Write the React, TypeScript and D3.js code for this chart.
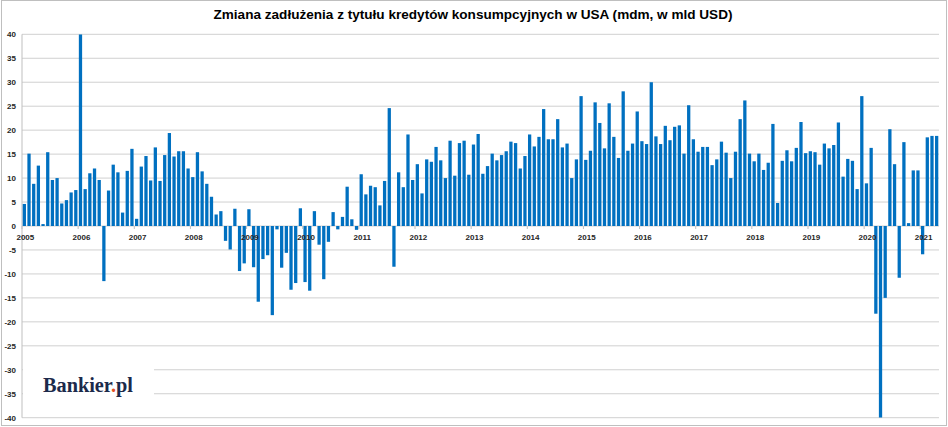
import React, { useEffect, useRef } from "react";
import * as d3 from "d3";

// miesięczne zmiany w mld USD, od 2005-01 do 2021-04
const values2005 = [4.6, 15.1, 8.8, 12.6, 0.4, 15.4, 9.6, 10.0, 4.7, 5.4, 7.0, 7.5];
const values2006 = [40, 7.7, 11.0, 12.0, 9.6, -11.5, 7.4, 12.8, 11.2, 2.8, 11.5, 16.1];
const values2007 = [1.5, 12.4, 14.6, 9.5, 16.4, 9.4, 14.8, 19.4, 14.5, 15.6, 15.6, 12.0];
const values2008 = [10.2, 15.4, 11.4, 8.8, 6.1, 2.4, 3.1, -3.1, -4.9, 3.6, -9.4, -7.8];
const values2009 = [3.5, -8.6, -15.8, -6.9, -6.1, -18.6, -0.7, -8.7, -5.6, -13.3, -11.9, 3.7];
const values2010 = [-11.7, -13.5, 3.1, -3.9, -11.1, -3.3, 2.9, -0.7, 1.9, 8.2, 1.4, -0.8];
const values2011 = [10.8, 6.6, 8.4, 8.1, 4.3, 9.4, 24.6, -8.5, 11.2, 8.1, 19.1, 9.6];
const values2012 = [12.9, 6.8, 13.9, 13.4, 16.5, 13.7, 10.0, 17.8, 10.5, 17.3, 17.8, 10.7];
const values2013 = [17.0, 19.2, 10.9, 12.5, 15.1, 13.7, 14.8, 15.6, 17.6, 17.3, 12.0, 14.6];
const values2014 = [19.1, 16.6, 18.6, 24.4, 18.1, 18.1, 22.3, 16.4, 17.2, 10.0, 13.9, 27.1];
const values2015 = [13.8, 15.7, 25.8, 21.5, 16.2, 25.6, 18.6, 14.2, 28.1, 15.7, 17.2, 23.9];
const values2016 = [17.7, 17.1, 30.0, 18.7, 17.1, 20.9, 17.9, 20.7, 21.0, 15.1, 25.2, 18.1];
const values2017 = [15.5, 16.5, 16.5, 12.7, 13.9, 17.6, 15.3, 10.0, 15.5, 22.3, 26.2, 15.1];
const values2018 = [13.5, 15.1, 11.7, 13.2, 21.3, 4.8, 13.6, 15.8, 13.5, 16.3, 21.7, 15.2];
const values2019 = [15.6, 15.4, 12.8, 17.2, 16.2, 16.9, 21.6, 10.3, 14.0, 13.6, 7.7, 27.1];
const values2020 = [8.9, 16.3, -18.3, -40, -15.0, 20.2, 12.9, -10.8, 17.5, 0.6, 11.6, 11.6];
const values2021 = [-5.9, 18.5, 18.8, 18.8];

const years = [2005, 2006, 2007, 2008, 2009, 2010, 2011, 2012, 2013, 2014, 2015, 2016, 2017, 2018, 2019, 2020, 2021];
const yTicks = [-40, -35, -30, -25, -20, -15, -10, -5, 0, 5, 10, 15, 20, 25, 30, 35, 40];

const title = "Zmiana zadłużenia z tytułu kredytów konsumpcyjnych w USA (mdm, w mld USD)";

const App = () => {
  const ref = useRef<SVGSVGElement>(null);

  useEffect(() => {
    document.body.style.margin = "0";
    makeGraph();
  }, []);

  const makeGraph = () => {
    const width = 948;
    const height = 427;
    const margin = { top: 34.3, left: 22, bottom: 9.3, right: 9 };

    const perYear = [
      values2005, values2006, values2007, values2008, values2009, values2010,
      values2011, values2012, values2013, values2014, values2015, values2016,
      values2017, values2018, values2019, values2020, values2021,
    ];
    const data: { key: string; year: number; month: number; value: number }[] = [];
    perYear.forEach((vals, i) =>
      vals.forEach((v, m) => data.push({ key: `${years[i]}-${m + 1}`, year: years[i], month: m, value: v }))
    );

    const svg = d3.select(ref.current);
    svg.selectAll("*").remove();

    // ramka wykresu
    svg
      .append("rect")
      .attr("x", 1.5)
      .attr("y", 0.5)
      .attr("width", width - 3)
      .attr("height", height - 2)
      .attr("fill", "#fff")
      .attr("stroke", "#bfbfbf");

    const x = d3
      .scaleBand()
      .domain(data.map((d) => d.key))
      .range([margin.left, width - margin.right])
      .paddingInner(0.3)
      .paddingOuter(0.15);

    const y = d3
      .scaleLinear()
      .domain([-40, 40])
      .range([height - margin.bottom, margin.top]);

    // siatka
    svg
      .append("g")
      .selectAll("line")
      .data(yTicks)
      .enter()
      .append("line")
      .attr("x1", margin.left)
      .attr("x2", width - margin.right)
      .attr("y1", (d) => y(d))
      .attr("y2", (d) => y(d))
      .attr("stroke", "#d0d0d0")
      .attr("stroke-width", 1);

    // oś Y
    svg
      .append("line")
      .attr("x1", margin.left)
      .attr("x2", margin.left)
      .attr("y1", y(40))
      .attr("y2", y(-40))
      .attr("stroke", "#bfbfbf");

    svg
      .append("g")
      .selectAll("text")
      .data(yTicks)
      .enter()
      .append("text")
      .text((d) => d)
      .attr("x", 16)
      .attr("y", (d) => y(d) + 2.8)
      .attr("text-anchor", "end")
      .attr("font-family", "Liberation Sans, Arial, sans-serif")
      .attr("font-weight", "bold")
      .attr("font-size", "8px")
      .attr("fill", "#262626");

    svg.append("defs").append("clipPath").attr("id", "plot")
      .append("rect")
      .attr("x", margin.left)
      .attr("y", y(40))
      .attr("width", width - margin.left - margin.right)
      .attr("height", y(-40) - y(40));

    // słupki
    svg
      .append("g")
      .attr("clip-path", "url(#plot)")
      .selectAll("rect")
      .data(data)
      .enter()
      .append("rect")
      .attr("x", (d) => x(d.key) as number)
      .attr("width", x.bandwidth())
      .attr("y", (d) => y(Math.max(0, d.value)))
      .attr("height", (d) => Math.abs(y(d.value) - y(0)))
      .attr("fill", "#0070c0");

    // znaczniki lat na osi X
    const step = x.step();
    svg
      .append("g")
      .selectAll("line")
      .data(years)
      .enter()
      .append("line")
      .attr("x1", (d) => (x(`${d}-1`) as number) - (step - x.bandwidth()) / 2)
      .attr("x2", (d) => (x(`${d}-1`) as number) - (step - x.bandwidth()) / 2)
      .attr("y1", y(0))
      .attr("y2", y(0) + 3)
      .attr("stroke", "#bfbfbf");

    svg
      .append("g")
      .selectAll("text")
      .data(years)
      .enter()
      .append("text")
      .text((d) => d)
      .attr("x", (d) => (x(`${d}-1`) as number) + x.bandwidth() / 2 + 1)
      .attr("y", y(0) + 14)
      .attr("text-anchor", "middle")
      .attr("font-family", "Liberation Sans, Arial, sans-serif")
      .attr("font-weight", "bold")
      .attr("font-size", "8px")
      .attr("fill", "#262626");

    // tytuł
    svg
      .append("text")
      .text(title)
      .attr("x", 473)
      .attr("y", 19)
      .attr("text-anchor", "middle")
      .attr("font-family", "Liberation Sans, Arial, sans-serif")
      .attr("font-weight", "bold")
      .attr("font-size", "13px")
      .attr("textLength", 519)
      .attr("lengthAdjust", "spacingAndGlyphs")
      .attr("fill", "#000");

    // logo
    svg
      .append("rect")
      .attr("x", margin.left + 1)
      .attr("y", 356)
      .attr("width", 131)
      .attr("height", 45)
      .attr("fill", "#fff");

    const logo = svg
      .append("text")
      .attr("x", 43)
      .attr("y", 391.5)
      .attr("font-family", "Liberation Serif, Times New Roman, serif")
      .attr("font-weight", "bold")
      .attr("font-size", "20px")
      .attr("textLength", 90)
      .attr("lengthAdjust", "spacingAndGlyphs")
      .attr("fill", "#1c2a4b");
    logo.append("tspan").text("Bankier");
    logo.append("tspan").text(".").attr("fill", "#e5531f");
    logo.append("tspan").text("pl");
  };

  return <svg ref={ref} width={948} height={427} style={{ display: "block" }} />;
};
export default App;
